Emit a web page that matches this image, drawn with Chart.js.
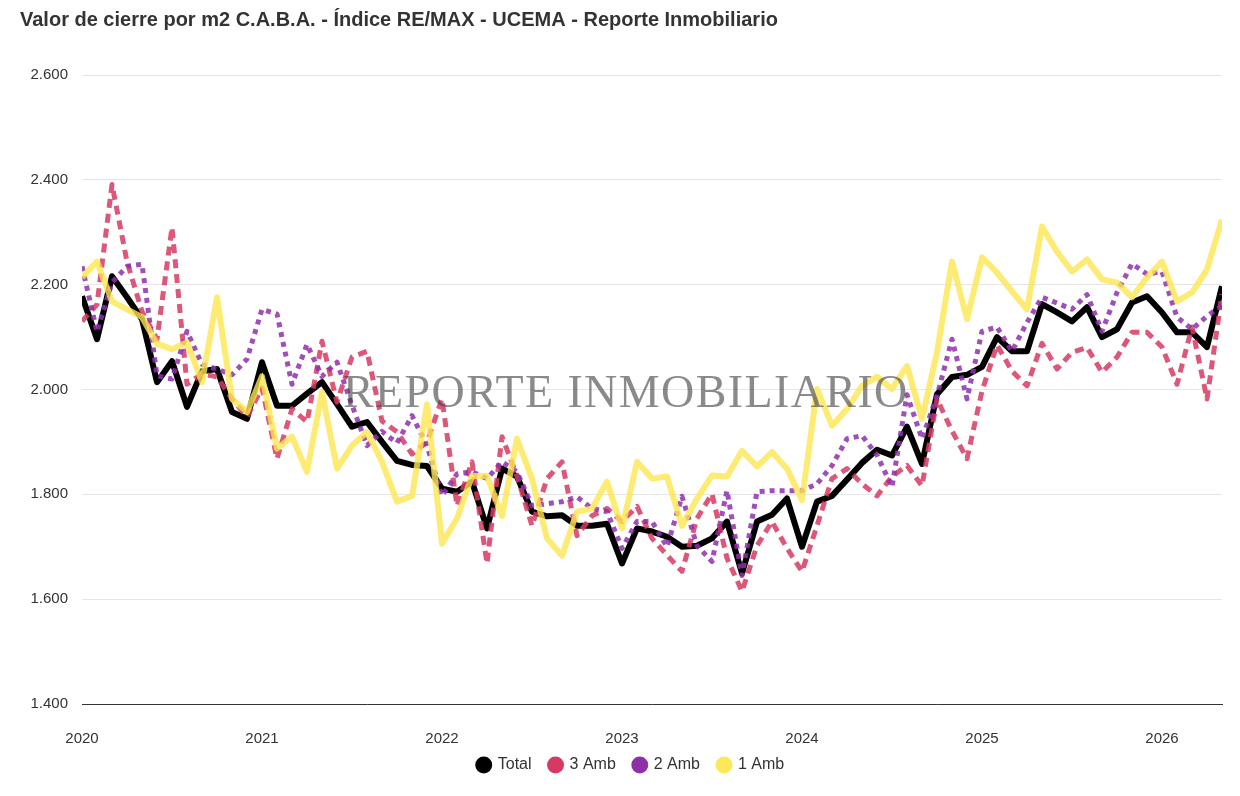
<!DOCTYPE html>
<html>
<head>
<meta charset="utf-8">
<script src="https://cdn.jsdelivr.net/npm/chart.js@4"></script>
<style>
  body { margin: 0; background: #fff; }
  #wrap { position: relative; width: 1240px; height: 796px; }
  #mark {
    position: absolute; left: 343px; top: 369px;
    font: 46px "Liberation Serif", "DejaVu Serif", serif; line-height: 1;
    letter-spacing: 1.4px; color: rgba(60, 60, 60, 0.6);
    white-space: nowrap; pointer-events: none;
  }
</style>
</head>
<body>
<div id="wrap">
  <canvas id="chart" width="1240" height="796"></canvas>
  <div id="mark">REPORTE INMOBILIARIO</div>
</div>
<script>
// one value per month, Jan 2020 .. May 2026
const total = [2178, 2096, 2216, 2176, 2134, 2014, 2054, 1967, 2035, 2039, 1957, 1944,
  2052, 1969, 1969, 1992, 2014, 1972, 1929, 1938, 1900, 1864, 1856, 1854,
  1811, 1805, 1824, 1735, 1849, 1834, 1767, 1758, 1760, 1740, 1740, 1744,
  1668, 1735, 1729, 1719, 1700, 1702, 1716, 1748, 1649, 1748, 1761, 1792,
  1700, 1786, 1797, 1828, 1860, 1885, 1874, 1929, 1858, 1991, 2024, 2028,
  2043, 2100, 2073, 2073, 2163, 2147, 2130, 2157, 2100, 2115, 2166, 2178,
  2147, 2109, 2109, 2081, 2197];
const amb3 = [2130, 2162, 2391, 2244, 2149, 2096, 2309, 2010, 2030, 2024, 1982, 1948,
  2003, 1868, 1963, 1938, 2092, 1976, 2062, 2073, 1940, 1919, 1877, 1900,
  1982, 1778, 1862, 1668, 1910, 1835, 1740, 1830, 1862, 1721, 1759, 1773,
  1748, 1777, 1716, 1684, 1653, 1754, 1801, 1678, 1615, 1702, 1748, 1697,
  1653, 1740, 1830, 1849, 1820, 1797, 1834, 1855, 1816, 1982, 1921, 1868,
  1997, 2085, 2035, 2007, 2088, 2039, 2071, 2080, 2033, 2062, 2109, 2109,
  2081, 2010, 2119, 1982, 2182];
const amb2 = [2235, 2110, 2204, 2235, 2239, 2026, 2020, 2111, 2048, 2039, 2028, 2058,
  2153, 2144, 2010, 2086, 2025, 2052, 1970, 1893, 1920, 1898, 1950, 1893,
  1797, 1839, 1843, 1830, 1862, 1843, 1778, 1782, 1786, 1795, 1773, 1767,
  1697, 1748, 1748, 1700, 1796, 1702, 1672, 1807, 1645, 1805, 1807, 1807,
  1807, 1820, 1855, 1906, 1912, 1875, 1814, 1990, 1906, 1988, 2096, 1982,
  2111, 2119, 2073, 2128, 2176, 2165, 2153, 2181, 2111, 2185, 2240, 2220,
  2225, 2138, 2115, 2140, 2160];
const amb1 = [2214, 2244, 2168, 2153, 2138, 2087, 2077, 2090, 2014, 2176, 1982, 1957,
  2025, 1887, 1910, 1843, 1995, 1849, 1893, 1919, 1862, 1786, 1797, 1972,
  1706, 1754, 1835, 1835, 1759, 1906, 1830, 1716, 1683, 1767, 1773, 1824,
  1735, 1862, 1830, 1834, 1740, 1792, 1836, 1834, 1883, 1853, 1881, 1849,
  1789, 2001, 1931, 1963, 2007, 2024, 2001, 2045, 1944, 2071, 2244, 2134,
  2252, 2223, 2187, 2153, 2311, 2263, 2225, 2248, 2210, 2204, 2176, 2214,
  2244, 2168, 2185, 2229, 2324];
const startYear = 2020;
const yTicks = [1400, 1600, 1800, 2000, 2200, 2400, 2600];

const toPoints = arr => arr.map((v, i) => ({ x: i, y: v }));
const fmt = v => String(v).replace(/\B(?=(\d{3})+(?!\d))/g, '.');

// move the legend row to where the reference has it (below the year labels)
const legendShift = {
  id: 'legendShift',
  afterLayout(chart) {
    const lg = chart.legend;
    const h = lg.bottom - lg.top;
    lg.top = 739;
    lg.bottom = 739 + h;
    lg.left += 10;
    lg.right += 10;
  },
};

Chart.defaults.font.family = '"Liberation Sans", Arial, sans-serif';
Chart.defaults.color = '#333333';

new Chart(document.getElementById('chart'), {
  type: 'line',
  data: {
    datasets: [
      { label: 'Total', data: toPoints(total), borderColor: '#000000', backgroundColor: '#000000',
        borderWidth: 6, order: 4 },
      { label: '3 Amb', data: toPoints(amb3), borderColor: 'rgba(214,58,98,0.85)', backgroundColor: '#d63a62',
        borderWidth: 5, borderDash: [9, 6], order: 3 },
      { label: '2 Amb', data: toPoints(amb2), borderColor: 'rgba(142,48,170,0.85)', backgroundColor: '#8e30aa',
        borderWidth: 5, borderDash: [5, 5], order: 2 },
      { label: '1 Amb', data: toPoints(amb1), borderColor: 'rgba(252,230,80,0.8)', backgroundColor: '#fce95a',
        borderWidth: 6, order: 1 },
    ],
  },
  plugins: [legendShift],
  options: {
    responsive: false,
    animation: false,
    elements: { point: { radius: 0 }, line: { tension: 0, borderJoinStyle: 'round' } },
    layout: { padding: { left: 20, right: 18, top: 0, bottom: -22 } },
    plugins: {
      tooltip: { enabled: false },
      title: {
        display: true, align: 'start',
        text: 'Valor de cierre por m2 C.A.B.A. - Índice RE/MAX - UCEMA - Reporte Inmobiliario',
        font: { size: 20, weight: 'bold' }, color: '#333333',
        padding: { top: 8, bottom: 43 },
      },
      legend: {
        position: 'bottom',
        labels: {
          usePointStyle: true, pointStyle: 'circle', boxWidth: 12, boxHeight: 12,
          font: { size: 16 }, color: '#333333', padding: 18,
          sort: (a, b) => a.datasetIndex - b.datasetIndex,
          generateLabels: chart => Chart.defaults.plugins.legend.labels.generateLabels(chart)
            .map(it => ({ ...it, lineWidth: 0, lineDash: [], strokeStyle: it.fillStyle })),
        },
      },
    },
    scales: {
      x: {
        type: 'linear', min: 0, max: total.length - 1,
        grid: { display: false, drawTicks: false },
        border: { display: true, color: '#333333', width: 1 },
        afterFit: s => { s.paddingLeft = 0; s.paddingRight = 0; },
        ticks: { stepSize: 12, font: { size: 15 }, padding: 26, maxRotation: 0,
          callback: v => v % 12 === 0 ? String(startYear + v / 12) : '' },
      },
      y: {
        min: yTicks[0], max: yTicks[yTicks.length - 1],
        afterBuildTicks: s => { s.ticks = yTicks.map(v => ({ value: v })); },
        afterFit: s => { s.width = 62; },
        grid: { color: '#e6e6e6', drawTicks: false },
        border: { display: false },
        ticks: { font: { size: 15 }, padding: 14, callback: v => fmt(v) },
      },
    },
  },
});
</script>
</body>
</html>
